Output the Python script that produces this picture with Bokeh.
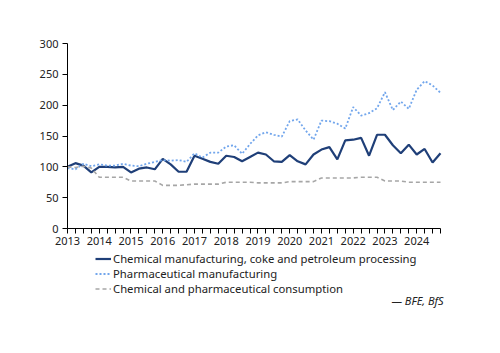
from bokeh.plotting import figure
from bokeh.models import FixedTicker, Range1d, Legend, LegendItem, Label
from bokeh.embed import file_html
from bokeh.resources import INLINE

years = list(range(2013, 2025))
quarters = [f"{y}Q{q}" for y in years for q in range(1, 5)]

chem = [100, 106, 102, 91, 100, 100, 99, 100, 91, 97, 99, 96,
        113, 104, 92, 92, 118, 113, 108, 105, 118, 116, 109, 116,
        123, 120, 109, 108, 119, 109, 104, 120, 128, 132, 112, 143,
        144, 147, 118, 152, 152, 135, 122, 136, 120, 129, 107, 122]
pharma = [98, 96, 105, 101, 104, 102, 102, 105, 102, 101, 105, 108,
          111, 110, 111, 108, 122, 115, 123, 123, 133, 135, 121, 137,
          151, 156, 152, 149, 174, 177, 159, 144, 175, 174, 170, 162,
          197, 183, 187, 195, 221, 192, 206, 194, 225, 239, 232, 220]
consumption = [100, 99, 101, 98, 83, 83, 83, 83, 77, 77, 77, 77,
               70, 70, 70, 71, 72, 72, 72, 72, 75, 75, 75, 75,
               74, 74, 74, 74, 76, 76, 76, 76, 82, 82, 82, 82,
               82, 83, 83, 83, 77, 77, 77, 75, 75, 75, 75, 75]

series_labels = ["Chemical manufacturing, coke and petroleum processing",
                 "Pharmaceutical manufacturing",
                 "Chemical and pharmaceutical consumption"]
source_text = "\u2014 BFE, BfS"
y_ticks = [0, 50, 100, 150, 200, 250, 300]

x = list(range(len(quarters)))
FONT = "Noto Sans"
W, H = 500, 353

# plot area in the reference: x 67..440 px, y 43..228 px (300..0)
n_last = len(quarters) - 1
px_x = (440 - 67) / n_last
x_lo = -67 / px_x
x_hi = n_last + (W - 440) / px_x
px_y = 185 / 300
y_hi = 300 + 43 / px_y
y_lo = 300 - (H - 43) / px_y

p = figure(width=W, height=H, output_backend="svg", toolbar_location=None,
           x_range=Range1d(x_lo, x_hi), y_range=Range1d(y_lo, y_hi),
           min_border_left=0, min_border_right=0, min_border_top=0,
           min_border_bottom=0)
p.outline_line_color = None
p.grid.grid_line_color = None
p.background_fill_color = "white"
p.border_fill_color = "white"

r1 = p.line(x, chem, line_color="#1f3f78", line_width=2.2)
r2 = p.line(x, pharma, line_color="#72a6ec", line_width=1.8, line_dash="2 2")
r3 = p.line(x, consumption, line_color="#a6a6a6", line_width=1.6, line_dash="4 3")

xa = p.xaxis[0]
xa.fixed_location = 0
xa.bounds = (0, n_last)
xa.ticker = FixedTicker(ticks=x, minor_ticks=[])
xa.major_label_overrides = {i: (quarters[i][:4] if quarters[i].endswith("Q1") else "") for i in x}
xa.major_tick_in = 0
xa.major_tick_out = 5
xa.minor_tick_line_color = None
xa.axis_line_color = "black"
xa.major_tick_line_color = "black"
xa.major_label_text_font = FONT
xa.major_label_text_font_size = "11px"
xa.major_label_text_color = "#222222"
xa.major_label_standoff = 3

ya = p.yaxis[0]
ya.fixed_location = 0
ya.bounds = (0, 300)
ya.ticker = FixedTicker(ticks=y_ticks, minor_ticks=[])
ya.major_tick_in = 0
ya.major_tick_out = 5
ya.minor_tick_line_color = None
ya.axis_line_color = "black"
ya.major_tick_line_color = "black"
ya.major_label_text_font = FONT
ya.major_label_text_font_size = "11px"
ya.major_label_text_color = "#222222"
ya.major_label_standoff = 4

legend = Legend(items=[LegendItem(label=series_labels[0], renderers=[r1]),
                       LegendItem(label=series_labels[1], renderers=[r2]),
                       LegendItem(label=series_labels[2], renderers=[r3])],
                location=(95, 57), orientation="vertical",
                label_text_font=FONT, label_text_font_size="11.3px",
                label_text_color="#222222",
                glyph_width=16, glyph_height=13, label_height=13,
                label_standoff=2, spacing=0, padding=0, margin=0,
                border_line_color=None, background_fill_alpha=0)
p.add_layout(legend, "center")

src = Label(x=n_last + 0.4, y=-117, text=source_text,
            text_font=FONT, text_font_size="11px", text_font_style="italic",
            text_align="right", text_baseline="middle", text_color="#222222")
p.add_layout(src)

open("out.html", "w").write(file_html(p, INLINE))
